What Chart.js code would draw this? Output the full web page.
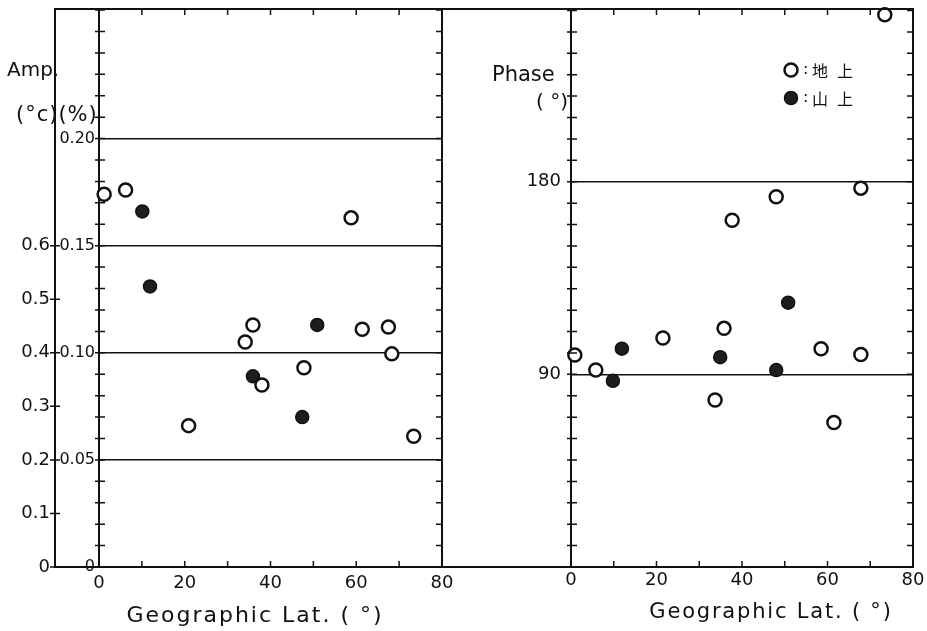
<!DOCTYPE html>
<html>
<head>
<meta charset="utf-8">
<script src="https://cdn.jsdelivr.net/npm/chart.js@4.4.1/dist/chart.umd.min.js"></script>
<style>
  html, body { margin: 0; padding: 0; background: #fff; }
  #wrap { position: relative; width: 927px; height: 631px; overflow: hidden; }
  canvas { position: absolute; top: 0; }
  #ampChart { left: 0; }
  #phaseChart { left: 442px; }
</style>
</head>
<body>
<div id="wrap">
  <canvas id="ampChart" width="460" height="631"></canvas>
  <canvas id="phaseChart" width="485" height="631"></canvas>
</div>
<script>
// --- data ---
// amplitude (%), open = 地上 (ground), filled = 山上 (mountain)
const ampLandLat = [1.2, 6.2, 58.8, 35.9, 34.1, 61.4, 67.5, 68.3, 47.8, 38.0, 20.9, 73.4];
const ampLandPct = [0.174, 0.176, 0.163, 0.113, 0.105, 0.111, 0.112, 0.0995, 0.093, 0.085, 0.066, 0.061];
const ampMtLat = [10.1, 11.9, 50.9, 35.9, 47.4];
const ampMtPct = [0.166, 0.131, 0.113, 0.089, 0.070];

// phase (deg)
const phLandLat = [73.4, 67.8, 48.0, 37.7, 35.8, 21.5, 0.9, 58.5, 67.8, 5.8, 33.7, 61.5];
const phLandDeg = [258, 177, 173, 162, 111.5, 107, 99, 102, 99.3, 92, 78, 67.5];
const phMtLat = [50.8, 11.9, 34.9, 9.8, 48.0];
const phMtDeg = [123.5, 102, 98, 87, 92];

// axes
const latLabels = [0, 20, 40, 60, 80];
const latMinor = [0, 10, 20, 30, 40, 50, 60, 70, 80];
const ampPctTicks = [0, 0.05, 0.10, 0.15, 0.20];
const ampDegCTicks = [0, 0.1, 0.2, 0.3, 0.4, 0.5, 0.6];
const phaseTicks = [90, 180];
const ampPctMax = 0.2605;
const phaseMax = 260.7;

const ampPctMinor = [];
for (let v = 0; v <= 26; v++) ampPctMinor.push(v / 100);
const phaseMinor = [];
for (let v = 0; v <= 260; v += 10) phaseMinor.push(v);

const ink = '#111';
const font = 'DejaVu Sans';

const pts = (xs, ys) => xs.map((x, i) => ({ x, y: ys[i] }));

const landStyle = {
  pointStyle: 'circle', pointRadius: 6.5, pointBorderWidth: 2.5,
  pointBorderColor: ink, pointBackgroundColor: '#fff', showLine: false, clip: false
};
const mtStyle = {
  pointStyle: 'circle', pointRadius: 6.5, pointBorderWidth: 1.5,
  pointBorderColor: ink, pointBackgroundColor: '#1e1e1e', showLine: false, clip: false
};

// fix axis box sizes so the plot areas line up with the figure
const fixSize = (w, h) => s => {
  if (w != null) s.width = w;
  if (h != null) s.height = h;
  s.paddingTop = s.paddingBottom = s.paddingLeft = s.paddingRight = 0;
};

function drawText(ctx, t) {
  ctx.font = `${t.size}px ${t.family || font}`;
  ctx.letterSpacing = (t.spacing || 0) + 'px';
  ctx.textAlign = t.align || 'left';
  ctx.textBaseline = 'middle';
  ctx.fillStyle = ink;
  ctx.fillText(t.text, t.x, t.y);
}

// frame, inward tick marks and loose labels
function panelFrame(cfg) {
  return {
    id: 'panelFrame',
    afterDraw(chart) {
      const { ctx, chartArea: { left, right, top, bottom } } = chart;
      const x = chart.scales.x;
      const y = chart.scales[cfg.yId];
      const outer = cfg.outerLeft(chart);
      ctx.save();
      ctx.strokeStyle = ink;
      ctx.lineWidth = 2;
      ctx.beginPath();
      ctx.moveTo(outer, top); ctx.lineTo(right, top);
      ctx.lineTo(right, bottom); ctx.lineTo(outer, bottom);
      ctx.stroke();

      ctx.lineWidth = 1.5;
      ctx.beginPath();
      latMinor.forEach(v => {
        const px = x.getPixelForValue(v);
        ctx.moveTo(px, bottom); ctx.lineTo(px, bottom - 6);
        ctx.moveTo(px, top); ctx.lineTo(px, top + 6);
      });
      cfg.yMinor.forEach(v => {
        const py = y.getPixelForValue(v);
        ctx.moveTo(left - 4, py); ctx.lineTo(left + 6, py);
        ctx.moveTo(right, py); ctx.lineTo(right - 6, py);
      });
      if (cfg.outerScale) {
        const s = chart.scales[cfg.outerScale];
        ampDegCTicks.forEach(v => {
          const py = s.getPixelForValue(v);
          ctx.moveTo(outer - 5, py); ctx.lineTo(outer + 5, py);
        });
      }
      ctx.stroke();

      if (cfg.legend) {
        const sets = chart.data.datasets;
        cfg.legend.forEach((item, i) => {
          const ds = sets[i];
          ctx.beginPath();
          ctx.arc(item.x, item.y, ds.pointRadius, 0, Math.PI * 2);
          ctx.fillStyle = ds.pointBackgroundColor;
          ctx.fill();
          ctx.lineWidth = ds.pointBorderWidth;
          ctx.strokeStyle = ds.pointBorderColor;
          ctx.stroke();
          drawText(ctx, { text: ':', x: item.x + 12, y: item.y, size: 16 });
          drawText(ctx, { text: ds.label, x: item.x + 21, y: item.y + 1, size: 16,
            family: '"Noto Sans CJK JP"', spacing: 9 });
        });
      }
      cfg.texts.forEach(t => drawText(ctx, t));
      ctx.restore();
    }
  };
}

const tickFont = { family: font, size: 18 };

new Chart(document.getElementById('ampChart'), {
  type: 'scatter',
  data: {
    datasets: [
      { label: '地上', data: pts(ampLandLat, ampLandPct), yAxisID: 'yP', ...landStyle },
      { label: '山上', data: pts(ampMtLat, ampMtPct), yAxisID: 'yP', ...mtStyle }
    ]
  },
  options: {
    responsive: false,
    animation: false,
    layout: { padding: { left: 0, top: 7, right: 18, bottom: 0 } },
    plugins: { legend: { display: false }, tooltip: { enabled: false } },
    scales: {
      x: {
        type: 'linear', position: 'bottom', min: 0, max: 80,
        afterFit: fixSize(null, 64),
        afterBuildTicks: s => { s.ticks = latLabels.map(v => ({ value: v })); },
        grid: { display: false, drawTicks: false },
        border: { display: false },
        ticks: { padding: 6, font: tickFont, color: ink, autoSkip: false, maxRotation: 0 }
      },
      yP: {
        type: 'linear', position: 'left', weight: 0, min: 0, max: ampPctMax,
        afterFit: fixSize(44),
        afterBuildTicks: s => { s.ticks = ampPctTicks.map(v => ({ value: v })); },
        grid: {
          drawTicks: false, lineWidth: 1.5,
          color: c => (c.tick && c.tick.value > 0 ? ink : 'rgba(0,0,0,0)')
        },
        border: { display: true, color: ink, width: 2 },
        ticks: {
          padding: 4, color: ink, autoSkip: false, font: { family: font, size: 16 },
          callback: v => (v === 0 ? '0' : v.toFixed(2))
        }
      },
      yC: {
        type: 'linear', position: 'left', weight: 1, min: 0, max: ampPctMax * 4,
        afterFit: fixSize(55),
        afterBuildTicks: s => { s.ticks = ampDegCTicks.map(v => ({ value: v })); },
        grid: { display: false, drawTicks: false },
        border: { display: true, color: ink, width: 2 },
        ticks: {
          padding: 5, color: ink, autoSkip: false, font: tickFont,
          callback: v => (v === 0 ? '0' : v.toFixed(1))
        }
      }
    }
  },
  plugins: [panelFrame({
    yId: 'yP',
    yMinor: ampPctMinor,
    outerScale: 'yC',
    outerLeft: c => c.scales.yC.right,
    texts: [
      { text: 'Amp.', x: 7, y: 71, size: 20 },
      { text: '(°c)(%)', x: 16, y: 116, size: 21, spacing: 1 },
      { text: 'Geographic Lat. ( °)', x: 255, y: 616, size: 22, align: 'center', spacing: 2 }
    ]
  })]
});

new Chart(document.getElementById('phaseChart'), {
  type: 'scatter',
  data: {
    datasets: [
      { label: '地上', data: pts(phLandLat, phLandDeg), ...landStyle },
      { label: '山上', data: pts(phMtLat, phMtDeg), ...mtStyle }
    ]
  },
  options: {
    responsive: false,
    animation: false,
    layout: { padding: { left: 0, top: 7, right: 14, bottom: 0 } },
    plugins: { legend: { display: false }, tooltip: { enabled: false } },
    scales: {
      x: {
        type: 'linear', position: 'bottom', min: 0, max: 80,
        afterFit: fixSize(null, 64),
        afterBuildTicks: s => { s.ticks = latLabels.map(v => ({ value: v })); },
        grid: { display: false, drawTicks: false },
        border: { display: false },
        ticks: { padding: 3, font: tickFont, color: ink, autoSkip: false, maxRotation: 0 }
      },
      y: {
        type: 'linear', position: 'left', min: 0, max: phaseMax,
        afterFit: fixSize(129),
        afterBuildTicks: s => { s.ticks = phaseTicks.map(v => ({ value: v })); },
        grid: { drawTicks: false, lineWidth: 1.5, color: ink },
        border: { display: true, color: ink, width: 2 },
        ticks: { padding: 10, color: ink, autoSkip: false, font: tickFont }
      }
    }
  },
  plugins: [panelFrame({
    yId: 'y',
    yMinor: phaseMinor,
    outerLeft: () => 0,
    legend: [{ x: 349, y: 70 }, { x: 349, y: 98 }],
    texts: [
      { text: 'Phase', x: 50, y: 76, size: 21 },
      { text: '( °)', x: 126, y: 103, size: 20, align: 'right' },
      { text: 'Geographic Lat. ( °)', x: 329, y: 613, size: 21, align: 'center', spacing: 1.8 }
    ]
  })]
});
</script>
</body>
</html>
